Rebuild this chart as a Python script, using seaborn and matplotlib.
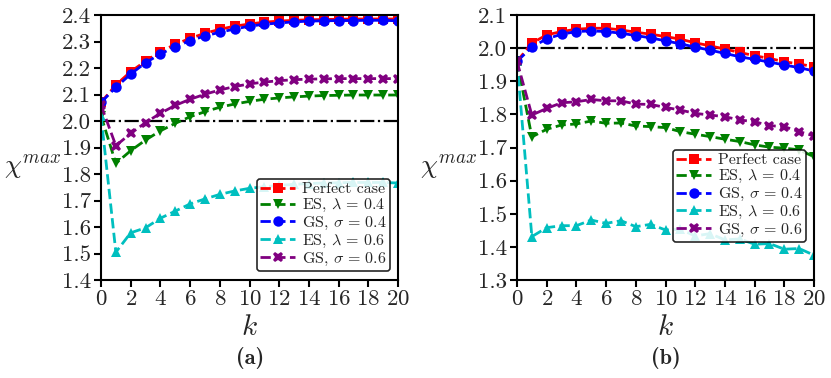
import numpy as np
import pandas as pd
import seaborn as sns
import matplotlib.pyplot as plt

k = list(range(21))

# panel (a)
a_perfect = [2.07, 2.136, 2.186, 2.226, 2.262, 2.289, 2.312, 2.331, 2.346, 2.358, 2.366,
             2.373, 2.377, 2.380, 2.382, 2.383, 2.384, 2.385, 2.385, 2.385, 2.385]
a_es04 = [2.02, 1.84, 1.888, 1.928, 1.963, 1.991, 2.016, 2.035, 2.052, 2.064, 2.074,
          2.082, 2.087, 2.091, 2.094, 2.096, 2.097, 2.098, 2.098, 2.098, 2.098]
a_gs04 = [2.07, 2.127, 2.177, 2.22, 2.253, 2.28, 2.303, 2.321, 2.335, 2.347, 2.358,
          2.365, 2.370, 2.374, 2.377, 2.378, 2.379, 2.379, 2.38, 2.38, 2.378]
a_es06 = [2.02, 1.505, 1.578, 1.597, 1.633, 1.66, 1.687, 1.706, 1.723, 1.736, 1.746,
          1.752, 1.757, 1.761, 1.764, 1.766, 1.767, 1.768, 1.768, 1.768, 1.766]
a_gs06 = [2.06, 1.907, 1.953, 1.994, 2.029, 2.059, 2.082, 2.101, 2.117, 2.13, 2.14,
          2.147, 2.152, 2.156, 2.158, 2.159, 2.16, 2.16, 2.16, 2.16, 2.16]

# panel (b)
b_perfect = [1.96, 2.015, 2.04, 2.05, 2.057, 2.06, 2.06, 2.055, 2.048, 2.042, 2.035,
             2.027, 2.016, 2.007, 1.997, 1.987, 1.977, 1.969, 1.959, 1.952, 1.944]
b_es04 = [1.96, 1.732, 1.755, 1.768, 1.771, 1.78, 1.773, 1.774, 1.765, 1.763, 1.76,
          1.748, 1.74, 1.733, 1.725, 1.718, 1.708, 1.701, 1.698, 1.693, 1.672]
b_gs04 = [1.96, 2.003, 2.028, 2.042, 2.05, 2.052, 2.05, 2.045, 2.038, 2.031, 2.022,
          2.013, 2.003, 1.994, 1.984, 1.974, 1.966, 1.958, 1.949, 1.941, 1.931]
b_es06 = [1.96, 1.431, 1.458, 1.464, 1.464, 1.481, 1.471, 1.479, 1.461, 1.468, 1.451,
          1.453, 1.433, 1.44, 1.421, 1.424, 1.408, 1.41, 1.393, 1.395, 1.375]
b_gs06 = [1.96, 1.798, 1.818, 1.835, 1.838, 1.845, 1.841, 1.841, 1.831, 1.83, 1.821,
          1.813, 1.803, 1.798, 1.793, 1.783, 1.778, 1.766, 1.763, 1.748, 1.735]

labels = ["Perfect case", r"ES, $\lambda\,=\,0.4$", r"GS, $\sigma\,=\,0.4$",
          r"ES, $\lambda\,=\,0.6$", r"GS, $\sigma\,=\,0.6$"]
colors = ["red", "green", "blue", "c", "purple"]
markers = ["s", "v", "o", "^", "X"]

sns.set_style("ticks")
plt.rcParams["font.family"] = ["serif"]
plt.rcParams["font.serif"] = ["cmr10"]
plt.rcParams["mathtext.fontset"] = "cm"
plt.rcParams["axes.formatter.use_mathtext"] = True

fig = plt.figure(figsize=(8.31, 3.78), dpi=100)
W, H = 831, 378
ax1 = fig.add_axes([101 / W, 1 - 280 / H, 297 / W, 265 / H])
ax2 = fig.add_axes([517 / W, 1 - 280 / H, 297 / W, 265 / H])

panels = [
    (ax1, [a_perfect, a_es04, a_gs04, a_es06, a_gs06], (1.4, 2.4), (0.973, 0.034), "(a)", 250),
    (ax2, [b_perfect, b_es04, b_gs04, b_es06, b_gs06], (1.3, 2.1), (0.973, 0.143), "(b)", 666),
]

for ax, series, ylim, anchor, tag, tx in panels:
    for vals, lab, col, mk in zip(series, labels, colors, markers):
        sns.lineplot(x=k, y=vals, ax=ax, color=col, marker=mk, linestyle="--",
                     linewidth=2, markersize=7.5, markeredgewidth=0, label=lab)
    ax.axhline(2.0, color="black", linestyle="-.", linewidth=1.6, zorder=1)
    ax.set_xlim(0, 20)
    ax.set_ylim(*ylim)
    ax.set_xticks(range(0, 21, 2))
    ax.set_yticks(np.round(np.arange(ylim[0], ylim[1] + 0.001, 0.1), 1))
    ax.set_yticklabels([f"{v:.1f}" for v in ax.get_yticks()])
    ax.tick_params(labelsize=16.5, direction="out", length=5, width=1.5, color="black",
                   pad=2)
    for s in ax.spines.values():
        s.set_visible(True)
        s.set_linewidth(1.5)
        s.set_color("black")
    ax.set_xlabel(r"$k$", fontsize=21, labelpad=4)
    ax.set_ylabel(r"$\chi^{max}$", fontsize=19.5, rotation=0, ha="right", va="center")
    ax.yaxis.set_label_coords(-0.135, 0.43)
    leg = ax.legend(loc="lower right", bbox_to_anchor=anchor, fontsize=11.5,
                    handlelength=2.2, handletextpad=0.4, borderpad=0.2,
                    labelspacing=0.05, borderaxespad=0, framealpha=0.85,
                    edgecolor="black", fancybox=True)
    leg.get_frame().set_linewidth(1.2)
    fig.text(tx / W, 1 - 358 / H, tag, family="cmb10",
             ha="center", va="center", fontsize=16)

fig.savefig("out.png", dpi=100)
